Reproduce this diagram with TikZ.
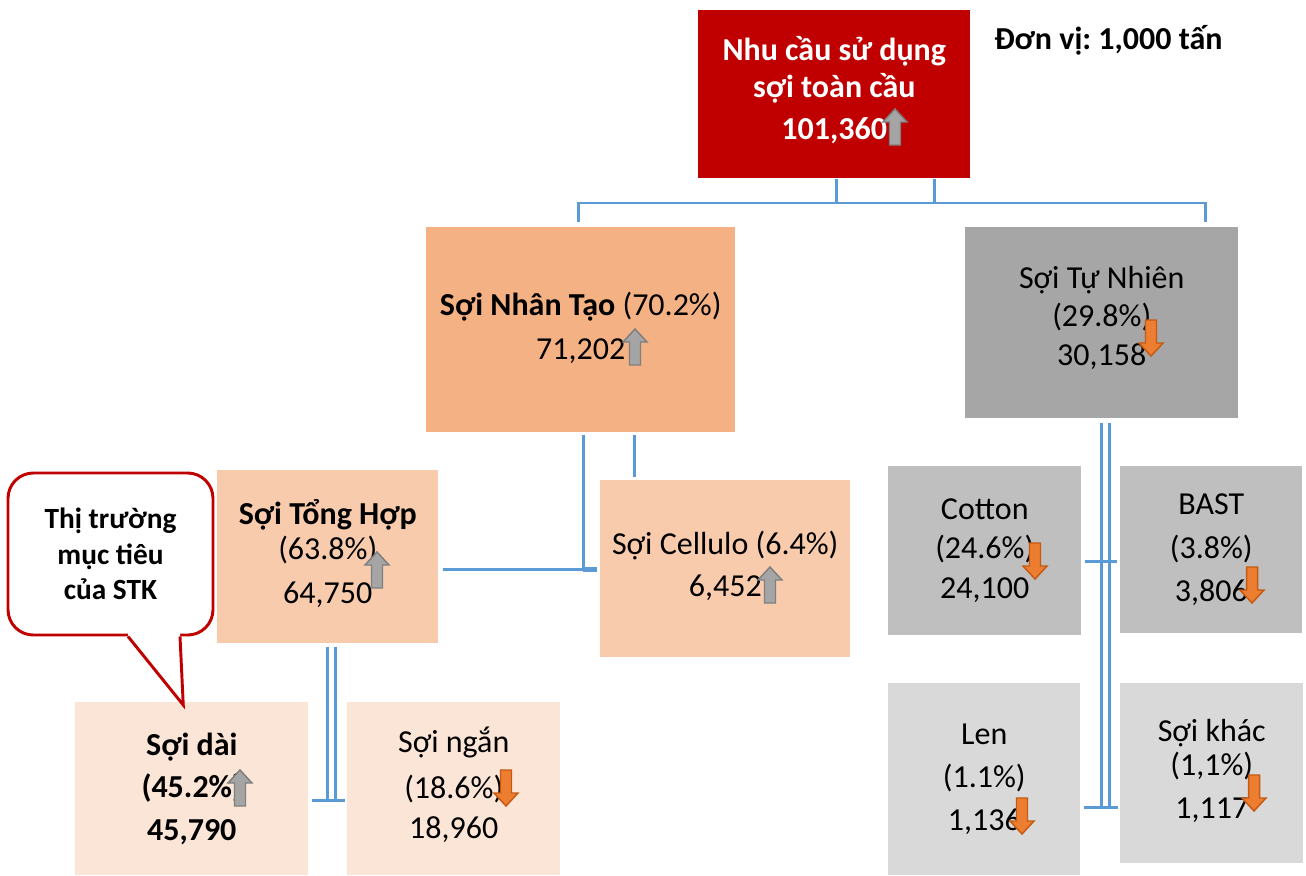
\documentclass[tikz,border=0pt]{standalone}
\usepackage{fontspec}
\setmainfont{Carlito}
\usetikzlibrary{calc}
\frenchspacing
\definecolor{topred}{HTML}{C00000}
\definecolor{synth}{HTML}{F4B183}
\definecolor{synthlight}{HTML}{F8CBAD}
\definecolor{synthpale}{HTML}{FBE5D6}
\definecolor{natdark}{HTML}{A6A6A6}
\definecolor{natmid}{HTML}{BFBFBF}
\definecolor{natlight}{HTML}{D9D9D9}
\definecolor{lineblue}{HTML}{5B9BD5}
\definecolor{arwgray}{HTML}{A5A5A5}
\definecolor{arwgrayd}{HTML}{7F7F7F}
\definecolor{arworange}{HTML}{ED7D31}
\definecolor{arworanged}{HTML}{C55A11}
% extra depth under the last line of a box, to lift its text block
\newcommand\liftby[1]{\rule[-#1]{0pt}{#1}}
\tikzset{
  uparw/.pic={\path[draw=arwgrayd, fill=arwgray, line width=1.1pt, line join=miter]
    (0,-18) -- (12,-5) -- (5.5,-5) -- (5.5,18) -- (-5.5,18) -- (-5.5,-5) -- (-12,-5) -- cycle;},
  dnarw/.pic={\path[draw=arworanged, fill=arworange, line width=1.1pt, line join=miter]
    (0,18) -- (12,5) -- (5.5,5) -- (5.5,-18) -- (-5.5,-18) -- (-5.5,5) -- (-12,5) -- cycle;}
}
\begin{document}
\begin{tikzpicture}[x=0.75pt,y=-0.75pt,
  box/.style={anchor=north west, inner sep=0pt, align=center,
    font=\fontsize{24}{29}\selectfont, text=black},
  boldbox/.style={box, font=\bfseries\fontsize{24}{29}\selectfont},
  conn/.style={draw=lineblue, line width=2pt},
  callout/.style={draw=topred, line width=2.2pt, fill=white, rounded corners=19pt,
    inner sep=0pt, align=center, minimum width=153.75pt, minimum height=121.5pt,
    font=\bfseries\fontsize{22}{26.5}\selectfont}]
\useasboundingbox (0,0) rectangle (1306,875);
\fill[white] (0,0) rectangle (1306,875);

% boxes of the tree
\node[boldbox, fill=topred, text=white, minimum width=204pt, minimum height=126pt] (top) at (698,10)
  {Nhu cầu sử dụng\\[-1pt]sợi toàn cầu\\[2pt]101,360\liftby{9.8pt}};
\node[boldbox] (unit) at (994,25) {Đơn vị: 1,000 tấn};

\node[box, fill=synth, minimum width=231.75pt, minimum height=153.75pt] (nhantao) at (426,227)
  {\textbf{Sợi Nhân Tạo} (70.2\%)\\[4pt]71,202\liftby{6pt}};
\node[box, fill=natdark, minimum width=204.75pt, minimum height=143.25pt] (tunhien) at (965,227)
  {Sợi Tự Nhiên\\(29.8\%)\\30,158\liftby{10.5pt}};

\node[box, fill=synthlight, minimum width=165.75pt, minimum height=129.75pt] (tonghop) at (217,470)
  {\textbf{Sợi Tổng Hợp}\\[-2.7pt](63.8\%)\\[4pt]64,750\liftby{7.5pt}};
\node[box, fill=synthlight, minimum width=187.5pt, minimum height=132.75pt] (cellulo) at (600,480)
  {Sợi Cellulo (6.4\%)\\[2.5pt]6,452\liftby{7.5pt}};

\node[boldbox, fill=synthpale, minimum width=174.75pt, minimum height=129.75pt] (soidai) at (75,702)
  {Sợi dài\\[3pt](45.2\%)\\[3pt]45,790};
\node[box, fill=synthpale, minimum width=159.75pt, minimum height=129.75pt] (soingan) at (347,702)
  {Sợi ngắn\\[5.25pt](18.6\%)\\[1.25pt]18,960\liftby{9pt}};

\node[box, fill=natmid, minimum width=144.75pt, minimum height=126.75pt] (cotton) at (888,466)
  {Cotton\\(24.6\%)\\[1pt]24,100};
\node[box, fill=natmid, minimum width=136.5pt, minimum height=125.25pt] (bast) at (1120,466)
  {BAST\\[4pt](3.8\%)\\[3pt]3,806};
\node[box, fill=natlight, minimum width=144pt, minimum height=144pt] (len) at (888,683)
  {Len\\[3pt](1.1\%)\\[3pt]1,136};
\node[box, fill=natlight, minimum width=137.25pt, minimum height=135pt] (soikhac) at (1120,683)
  {Sợi khác\\[-3pt](1,1\%)\\[3pt]1,117\liftby{6.75pt}};

% trend arrows
\pic at (895,127) {uparw};
\pic at (635,347) {uparw};
\pic at (1151,338) {dnarw};
\pic at (377,570) {uparw};
\pic at (770,585) {uparw};
\pic at (240,788) {uparw};
\pic at (506,788) {dnarw};
\pic at (1035,561) {dnarw};
\pic at (1252,585) {dnarw};
\pic at (1022,816) {dnarw};
\pic at (1254,793) {dnarw};

% connectors: global demand
\draw[conn] ($(top.south)+(2,0)$) -- ++(0,25);
\draw[conn] ($(top.south east)+(-36,0)$) -- ++(0,25);
\draw[conn] ($(nhantao.north)+(-2.5,-5)$) |- ($(tunhien.north east)+(-33,-24)$) -- ++(0,19);

% connectors: man-made fibres
\draw[conn] ($(nhantao.south)+(2.5,2)$) -- ++(0,136);
\draw[conn] ($(nhantao.south)+(53.5,2)$) -- ($(cellulo.north)+(-91,-3)$);
\draw[conn] ($(tonghop.east)+(4,12.5)$) -- ($(cellulo.west)+(-3,0.5)$);
\draw[conn, line width=3.6pt] ($(cellulo.west)+(-17,1)$) -- ($(cellulo.west)+(-3,1)$);

% connectors: synthetic fibres
\draw[conn] ($(tonghop.south)+(-0.5,3)$) -- ++(0,154);
\draw[conn] ($(tonghop.south)+(7.5,3)$) -- ++(0,154);
\draw[conn] ($(soidai.east)+(3,11.5)$) -- ($(soingan.west)+(-2,11.5)$);

% connectors: natural fibres
\draw[conn] ($(tunhien.south)+(-0.5,4)$) -- ++(0,385);
\draw[conn] ($(tunhien.south)+(7.5,4)$) -- ++(0,385);
\draw[conn] ($(cotton.east)+(3,10.5)$) -- ($(bast.west)+(-3,11.5)$);
\draw[conn] ($(len.east)+(3,28)$) -- ($(soikhac.west)+(-2,34)$);

% speech bubble
\node[callout] (note) at (110.5,554) {Thị trường\\mục tiêu\\của STK};
\coordinate (tailL) at ($(note.south)+(17.5,0)$);
\coordinate (tailR) at ($(note.south)+(69.5,0)$);
\coordinate (tailTip) at ($(soidai.north)+(-8.5,3)$);
\fill[white] ($(tailL)+(0,-7)$) -- (tailL) -- (tailTip) -- (tailR) -- ($(tailR)+(0,-7)$) -- cycle;
\draw[draw=topred, line width=2.2pt, line join=miter] (tailL) -- (tailTip) -- (tailR);
\end{tikzpicture}
\end{document}
